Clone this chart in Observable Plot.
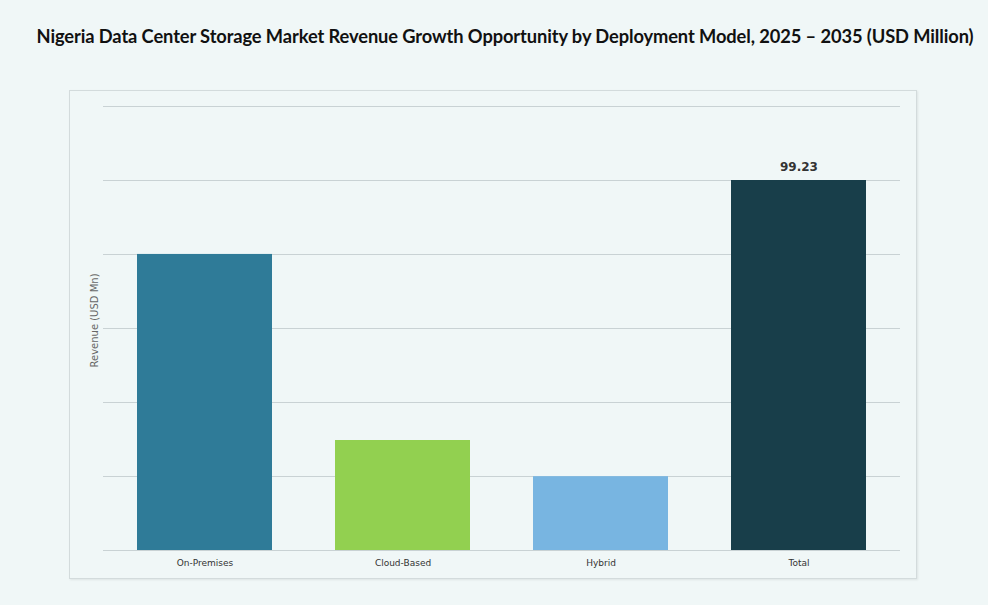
<!DOCTYPE html>
<html>
<head>
<meta charset="utf-8">
<script src="https://cdn.jsdelivr.net/npm/d3@7"></script>
<script src="https://cdn.jsdelivr.net/npm/@observablehq/plot@0.6"></script>
<style>
  html, body { margin: 0; padding: 0; background: #f0f7f7; }
  #wrap { position: relative; width: 988px; height: 605px; overflow: hidden; }
  #title { position: absolute; left: 11px; top: 25px; width: 988px; text-align: center; white-space: nowrap;
    font-family: Lato, "Noto Sans", sans-serif; font-weight: bold; font-size: 18.3px; color: #111; letter-spacing: -0.1px; }
  #box { position: absolute; left: 69px; top: 90px; width: 846px; height: 487px;
    border: 1px solid #d3dbdc; box-shadow: 1px 1px 2px rgba(0,0,0,0.08); }
  #chart { position: absolute; left: 0; top: 75px; }
</style>
</head>
<body>
<div id="wrap">
  <div id="title">Nigeria Data Center Storage Market Revenue Growth Opportunity by Deployment Model, 2025 – 2035 (USD Million)</div>
  <div id="box"></div>
  <div id="chart"></div>
</div>
<script>
const categories = ["On-Premises", "Cloud-Based", "Hybrid", "Total"];
const values = [79.4, 29.5, 19.8, 99.23];
const colors = ["#2f7b98", "#92d050", "#78b5e1", "#183e4a"];
const valueLabels = ["", "", "", "99.23"];
const yLabel = "Revenue (USD Mn)";
const gridStep = 19.846;
const gridCount = 6;

const data = categories.map((c, i) => ({category: c, value: values[i], color: colors[i], label: valueLabels[i]}));
const gridTicks = d3.range(0, gridCount + 1).map(i => i * gridStep);

const chart = Plot.plot({
  width: 988,
  height: 530,
  marginTop: 31,
  marginBottom: 55,
  marginLeft: 103,
  marginRight: 88,
  style: {background: "transparent", fontFamily: "'DejaVu Sans', sans-serif"},
  x: {domain: categories, paddingInner: 0.317, paddingOuter: 0.166, label: null},
  y: {domain: [0, gridStep * gridCount], label: null, axis: null},
  marks: [
    Plot.gridY(gridTicks, {stroke: "#c9d2d4", strokeOpacity: 1, strokeWidth: 1}),
    Plot.barY(data, {x: "category", y: "value", fill: "color"}),
    Plot.axisX({tickSize: 0, tickPadding: 9, fontSize: 9, fill: "#333"}),
    Plot.text(data.filter(d => d.label), {x: "category", y: "value", text: "label", dy: -13,
      fontSize: 12, fontWeight: "bold", fill: "#333", lineAnchor: "middle"}),
    Plot.text([yLabel], {frameAnchor: "left", textAnchor: "middle", rotate: -90, dx: -9, dy: -8, fontSize: 10, fill: "#666"})
  ]
});
document.getElementById("chart").appendChild(chart);
</script>
</body>
</html>
